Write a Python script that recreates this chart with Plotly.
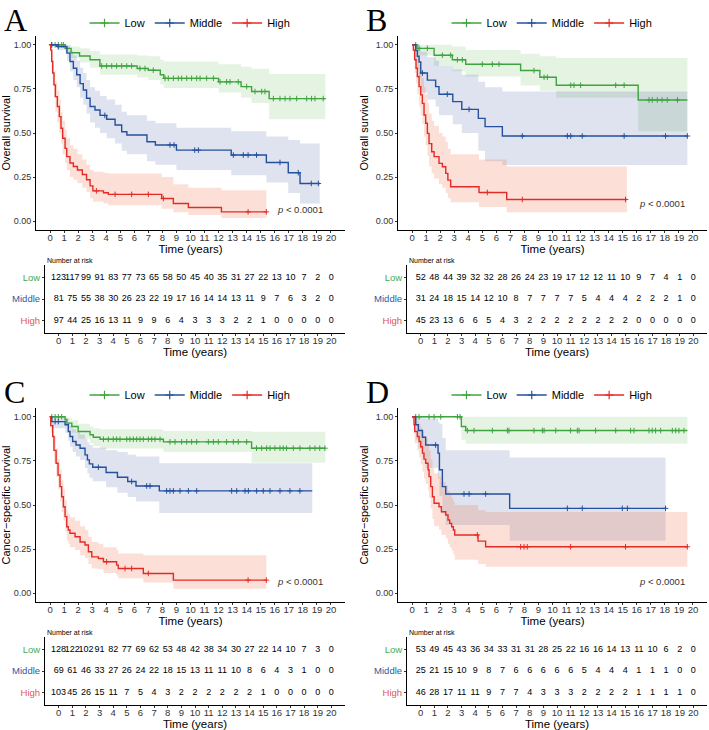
import numpy as np
import plotly.graph_objects as go

W, H = 709, 730
TIME_TICKS = list(range(0, 21))
GROUPS = ["Low", "Middle", "High"]
COLORS = {"Low": "#3FA33F", "Middle": "#24509C", "High": "#E22B27"}
FILLS = {"Low": "rgba(80,175,70,0.15)", "Middle": "rgba(40,70,150,0.15)", "High": "rgba(240,110,70,0.21)"}
LABEL_COLORS = {"Low": "#4DAA4D", "Middle": "#2E5A9E", "High": "#E8564C"}

# ---------------- Panel A : overall survival ----------------
A_LOW_T = [0, 1.07, 1.5, 2.1, 2.85, 3.55, 6.2, 7.0, 7.85, 8.1, 12.0, 13.6, 14.35, 15.6]
A_LOW_S = [1.0, 0.98, 0.955, 0.937, 0.915, 0.88, 0.866, 0.856, 0.83, 0.81, 0.79, 0.763, 0.735, 0.695]
A_LOW_LO = [1.0, 0.955, 0.925, 0.9, 0.87, 0.83, 0.815, 0.8, 0.775, 0.755, 0.73, 0.70, 0.67, 0.578]
A_LOW_HI = [1.0, 1.0, 0.99, 0.98, 0.965, 0.945, 0.94, 0.935, 0.915, 0.905, 0.89, 0.875, 0.865, 0.835]
A_LOW_END = 19.6
A_LOW_CENS = [0.12, 0.36, 0.59, 0.83, 0.95, 3.68, 4.03, 4.39, 4.74, 5.1, 5.46, 5.81, 6.4, 6.76, 7.35,
              8.19, 8.42, 8.78, 9.13, 9.37, 9.73, 10.08, 10.44, 10.68, 11.15, 11.63, 12.1, 12.57, 12.81,
              13.4, 14.0, 14.59, 15.07, 15.3, 15.9, 16.37, 16.73, 17.08, 17.56, 18.27, 18.62, 18.86, 19.45]

A_MID_T = [0, 0.5, 1.2, 1.42, 1.66, 1.9, 2.14, 2.37, 2.6, 2.85, 3.2, 3.56, 4.03, 4.63, 5.1, 5.47, 6.9, 7.5,
           9.0, 12.9, 15.4, 16.96, 17.8]
A_MID_S = [1.0, 0.99, 0.953, 0.905, 0.867, 0.83, 0.78, 0.744, 0.697, 0.65, 0.63, 0.60, 0.578, 0.545, 0.507,
           0.489, 0.45, 0.432, 0.403, 0.375, 0.333, 0.275, 0.214]
A_MID_LO = [1.0, 0.97, 0.91, 0.85, 0.80, 0.76, 0.70, 0.66, 0.61, 0.56, 0.53, 0.50, 0.47, 0.44, 0.40, 0.38,
            0.34, 0.32, 0.29, 0.26, 0.22, 0.16, 0.10]
A_MID_HI = [1.0, 1.0, 0.995, 0.965, 0.94, 0.91, 0.87, 0.84, 0.80, 0.76, 0.74, 0.71, 0.69, 0.66, 0.62, 0.60,
            0.57, 0.555, 0.53, 0.51, 0.48, 0.46, 0.44]
A_MID_END = 19.2
A_MID_CENS = [0.12, 0.59, 3.9, 8.54, 8.83, 10.3, 10.56, 13.05, 13.76, 14.1, 14.7, 16.37, 17.67, 18.6, 19.1]

A_HIGH_T = [0, 0.05, 0.12, 0.19, 0.28, 0.38, 0.52, 0.66, 0.78, 0.9, 1.07, 1.19, 1.42, 1.66, 1.95, 2.3, 2.6,
            2.85, 3.05, 3.8, 4.15, 7.95, 8.78, 9.85, 12.2]
A_HIGH_S = [1.0, 0.97, 0.905, 0.84, 0.773, 0.706, 0.65, 0.593, 0.527, 0.47, 0.413, 0.366, 0.33, 0.31, 0.29,
            0.265, 0.235, 0.20, 0.172, 0.161, 0.152, 0.129, 0.10, 0.078, 0.053]
A_HIGH_LO = [1.0, 0.94, 0.85, 0.77, 0.70, 0.62, 0.56, 0.50, 0.44, 0.38, 0.33, 0.29, 0.25, 0.235, 0.215, 0.19,
             0.165, 0.13, 0.11, 0.10, 0.09, 0.07, 0.05, 0.035, 0.018]
A_HIGH_HI = [1.0, 1.0, 0.96, 0.91, 0.85, 0.79, 0.74, 0.69, 0.62, 0.57, 0.52, 0.47, 0.43, 0.41, 0.38, 0.35,
             0.32, 0.29, 0.28, 0.275, 0.27, 0.25, 0.21, 0.19, 0.175]
A_HIGH_END = 15.4
A_HIGH_CENS = [3.3, 4.63, 5.81, 7.0, 8.07, 14.1, 15.4]

A_RISK_LOW = [123, 117, 99, 91, 83, 77, 73, 65, 58, 50, 45, 40, 35, 31, 27, 22, 13, 10, 7, 2, 0]
A_RISK_MID = [81, 75, 55, 38, 30, 26, 23, 22, 19, 17, 16, 14, 14, 13, 11, 9, 7, 6, 3, 2, 0]
A_RISK_HIGH = [97, 44, 25, 16, 13, 11, 9, 9, 6, 4, 3, 3, 3, 2, 2, 1, 0, 0, 0, 0, 0]

# ---------------- Panel B : overall survival ----------------
B_LOW_T = [0, 0.35, 1.57, 2.87, 3.82, 7.73, 9.1, 10.27, 16.1]
B_LOW_S = [1.0, 0.98, 0.941, 0.915, 0.89, 0.854, 0.816, 0.771, 0.6875]
B_LOW_LO = [1.0, 0.94, 0.88, 0.85, 0.82, 0.77, 0.74, 0.70, 0.51]
B_LOW_HI = [1.0, 1.0, 1.0, 0.99, 0.97, 0.95, 0.935, 0.925, 0.925]
B_LOW_END = 19.6
B_LOW_CENS = [0.26, 0.5, 1.09, 2.16, 2.75, 3.23, 3.58, 5.0, 5.72, 6.19, 8.68, 9.4, 9.63, 11.3, 11.53, 12.0,
              14.5, 15.1, 16.87, 17.1, 17.46, 17.8, 18.17, 18.9]

B_MID_T = [0, 0.26, 0.38, 0.5, 0.62, 1.09, 1.68, 1.92, 2.9, 3.54, 4.72, 5.2, 6.43]
B_MID_S = [1.0, 0.968, 0.935, 0.903, 0.84, 0.80, 0.763, 0.72, 0.678, 0.634, 0.583, 0.536, 0.483]
B_MID_LO = [1.0, 0.91, 0.86, 0.81, 0.73, 0.69, 0.65, 0.60, 0.55, 0.50, 0.40, 0.34, 0.318]
B_MID_HI = [1.0, 1.0, 1.0, 0.99, 0.96, 0.93, 0.91, 0.88, 0.86, 0.83, 0.79, 0.76, 0.735]
B_MID_END = 19.6
B_MID_CENS = [0.74, 2.51, 4.06, 7.85, 11.06, 11.3, 12.12, 15.1, 18.05, 19.6]

B_HIGH_T = [0, 0.095, 0.19, 0.285, 0.38, 0.5, 0.62, 0.735, 0.854, 0.97, 1.09, 1.21, 1.4, 1.57, 1.92, 2.16,
            2.4, 2.55, 2.75, 4.77, 6.74]
B_HIGH_S = [1.0, 0.97, 0.915, 0.867, 0.82, 0.763, 0.716, 0.668, 0.602, 0.555, 0.498, 0.44, 0.394, 0.366,
            0.328, 0.309, 0.271, 0.233, 0.195, 0.163, 0.123]
B_HIGH_LO = [1.0, 0.92, 0.84, 0.78, 0.72, 0.65, 0.60, 0.55, 0.48, 0.43, 0.37, 0.31, 0.27, 0.24, 0.21, 0.19,
             0.16, 0.13, 0.108, 0.08, 0.05]
B_HIGH_HI = [1.0, 1.0, 0.99, 0.96, 0.93, 0.89, 0.85, 0.81, 0.76, 0.72, 0.67, 0.61, 0.57, 0.54, 0.50, 0.48,
             0.45, 0.41, 0.38, 0.35, 0.31]
B_HIGH_END = 15.3
B_HIGH_CENS = [5.36, 7.85, 15.2]

B_RISK_LOW = [52, 48, 44, 39, 32, 32, 28, 26, 24, 23, 19, 17, 12, 12, 11, 10, 9, 7, 4, 1, 0]
B_RISK_MID = [31, 24, 18, 15, 14, 12, 10, 8, 7, 7, 7, 7, 5, 4, 4, 4, 2, 2, 2, 1, 0]
B_RISK_HIGH = [45, 23, 13, 6, 6, 5, 4, 3, 2, 2, 2, 2, 2, 2, 2, 2, 0, 0, 0, 0, 0]

# ---------------- Panel C : cancer-specific survival ----------------
C_LOW_T = [0, 1.07, 1.2, 1.55, 2.0, 2.85, 3.08, 3.56, 8.07, 14.35]
C_LOW_S = [1.0, 0.983, 0.964, 0.945, 0.917, 0.898, 0.884, 0.873, 0.858, 0.822]
C_LOW_LO = [1.0, 0.96, 0.935, 0.91, 0.875, 0.85, 0.835, 0.82, 0.80, 0.74]
C_LOW_HI = [1.0, 1.0, 0.995, 0.98, 0.96, 0.945, 0.935, 0.93, 0.92, 0.915]
C_LOW_END = 19.6
C_LOW_CENS = [0.12, 0.36, 0.59, 0.83, 3.8, 4.15, 4.5, 4.74, 4.98, 5.46, 5.69, 5.93, 6.17, 6.4, 6.64, 7.0,
              7.24, 7.47, 7.83, 8.54, 8.9, 9.37, 9.73, 10.08, 10.44, 11.27, 11.63, 11.98, 12.57, 13.05,
              13.4, 14.0, 14.7, 15.07, 15.42, 15.66, 16.01, 16.37, 16.6, 16.84, 17.32, 17.79, 18.5,
              18.86, 19.2, 19.57]

C_MID_T = [0, 0.12, 1.07, 1.3, 1.42, 1.61, 1.85, 2.14, 2.49, 2.66, 2.8, 3.04, 3.99, 4.8, 5.53, 6.12, 7.78]
C_MID_S = [1.0, 0.973, 0.955, 0.917, 0.888, 0.86, 0.84, 0.822, 0.784, 0.756, 0.733, 0.714, 0.684, 0.657,
           0.633, 0.608, 0.58]
C_MID_LO = [1.0, 0.935, 0.91, 0.865, 0.83, 0.80, 0.775, 0.755, 0.71, 0.68, 0.655, 0.635, 0.60, 0.57, 0.545,
            0.52, 0.455]
C_MID_HI = [1.0, 1.0, 0.995, 0.97, 0.95, 0.93, 0.915, 0.90, 0.875, 0.855, 0.84, 0.825, 0.81, 0.80, 0.785,
            0.775, 0.737]
C_MID_END = 18.67
C_MID_CENS = [0.36, 0.59, 3.44, 5.81, 6.88, 7.12, 8.3, 8.54, 8.78, 9.25, 9.85, 10.44, 12.93, 13.29, 13.88,
              14.12, 14.71, 15.18, 15.66, 16.37, 17.08, 17.79]

C_HIGH_T = [0, 0.05, 0.19, 0.28, 0.43, 0.57, 0.71, 0.83, 0.95, 1.07, 1.19, 1.3, 1.42, 1.78, 2.14, 2.49, 2.73,
            2.97, 3.44, 3.8, 4.74, 4.86, 6.64, 8.78]
C_HIGH_S = [1.0, 0.95, 0.888, 0.81, 0.737, 0.67, 0.604, 0.547, 0.49, 0.434, 0.377, 0.358, 0.34, 0.32, 0.29,
            0.273, 0.235, 0.206, 0.197, 0.178, 0.159, 0.14, 0.112, 0.074]
C_HIGH_LO = [1.0, 0.91, 0.83, 0.74, 0.66, 0.59, 0.52, 0.46, 0.41, 0.35, 0.30, 0.28, 0.26, 0.245, 0.215, 0.2,
             0.165, 0.14, 0.135, 0.115, 0.10, 0.085, 0.06, 0.025]
C_HIGH_HI = [1.0, 0.995, 0.96, 0.89, 0.82, 0.76, 0.70, 0.64, 0.59, 0.53, 0.47, 0.45, 0.43, 0.41, 0.38, 0.36,
             0.32, 0.29, 0.28, 0.26, 0.245, 0.225, 0.215, 0.215]
C_HIGH_END = 15.4
C_HIGH_CENS = [4.03, 5.34, 5.81, 7.0, 14.1, 15.4]

C_RISK_LOW = [128, 122, 102, 91, 82, 77, 69, 62, 53, 48, 42, 38, 34, 30, 27, 22, 14, 10, 7, 3, 0]
C_RISK_MID = [69, 61, 46, 33, 27, 26, 24, 22, 18, 15, 13, 11, 11, 10, 8, 6, 4, 3, 1, 0, 0]
C_RISK_HIGH = [103, 45, 26, 15, 11, 7, 5, 4, 3, 2, 2, 2, 2, 2, 2, 1, 0, 0, 0, 0, 0]

# ---------------- Panel D : cancer-specific survival ----------------
D_LOW_T = [0, 3.51, 3.82]
D_LOW_S = [1.0, 0.945, 0.922]
D_LOW_LO = [1.0, 0.87, 0.847]
D_LOW_HI = [1.0, 1.0, 1.0]
D_LOW_END = 19.6
D_LOW_CENS = [0.26, 0.5, 1.21, 1.57, 2.04, 3.23, 3.42, 3.94, 4.41, 5.72, 6.79, 6.9, 8.68, 9.28, 9.4, 10.23,
              11.29, 11.77, 11.89, 13.07, 14.5, 15.56, 15.8, 16.87, 17.1, 17.34, 17.7, 18.53, 18.77, 19.0,
              19.36]

D_MID_T = [0, 0.26, 0.45, 0.74, 0.97, 1.85, 1.95, 2.16, 2.4, 6.95]
D_MID_S = [1.0, 0.955, 0.922, 0.884, 0.84, 0.794, 0.70, 0.604, 0.5625, 0.481]
D_MID_LO = [1.0, 0.87, 0.82, 0.77, 0.71, 0.65, 0.55, 0.45, 0.386, 0.297]
D_MID_HI = [1.0, 1.0, 1.0, 1.0, 0.99, 0.97, 0.96, 0.88, 0.81, 0.77]
D_MID_END = 18.05
D_MID_CENS = [1.68, 3.7, 4.06, 5.24, 11.06, 12.12, 14.97, 15.33, 18.05]

D_HIGH_T = [0, 0.14, 0.19, 0.38, 0.5, 0.62, 0.74, 0.85, 0.97, 1.14, 1.21, 1.33, 1.45, 1.57, 1.92, 2.09, 2.4,
            2.56, 2.68, 2.82, 2.94, 3.04, 4.7, 5.24]
D_HIGH_S = [1.0, 0.955, 0.917, 0.888, 0.86, 0.83, 0.794, 0.76, 0.737, 0.70, 0.661, 0.604, 0.547, 0.51, 0.49,
            0.462, 0.443, 0.415, 0.396, 0.377, 0.358, 0.33, 0.295, 0.263]
D_HIGH_LO = [1.0, 0.90, 0.85, 0.81, 0.77, 0.73, 0.69, 0.65, 0.62, 0.58, 0.54, 0.48, 0.42, 0.38, 0.36, 0.33,
             0.31, 0.28, 0.26, 0.24, 0.22, 0.19, 0.165, 0.15]
D_HIGH_HI = [1.0, 1.0, 0.99, 0.975, 0.96, 0.94, 0.915, 0.89, 0.875, 0.845, 0.81, 0.76, 0.71, 0.68, 0.66, 0.63,
             0.61, 0.58, 0.56, 0.54, 0.52, 0.50, 0.47, 0.46]
D_HIGH_END = 19.6
D_HIGH_CENS = [4.65, 7.73, 7.97, 8.2, 11.29, 15.2, 19.6]

D_RISK_LOW = [53, 49, 45, 43, 36, 34, 33, 31, 31, 28, 25, 22, 16, 16, 14, 13, 11, 10, 6, 2, 0]
D_RISK_MID = [25, 21, 15, 10, 9, 8, 7, 6, 6, 6, 6, 6, 5, 4, 4, 4, 1, 1, 1, 0, 0]
D_RISK_HIGH = [46, 28, 17, 11, 11, 9, 7, 7, 4, 3, 3, 3, 2, 2, 2, 2, 1, 1, 1, 1, 0]

PVAL_TEXT = "<i>p</i> < 0.0001"
PVAL_POS = {"A": (16.0, 0.068), "B": (16.0, 0.10), "C": (16.0, 0.068), "D": (16.0, 0.068)}
YTITLES = {"A": "Overall survival", "B": "Overall survival",
           "C": "Cancer\u2212specific survival", "D": "Cancer\u2212specific survival"}

PANELS = {
    "A": {"Low": (A_LOW_T, A_LOW_S, A_LOW_LO, A_LOW_HI, A_LOW_END, A_LOW_CENS),
          "Middle": (A_MID_T, A_MID_S, A_MID_LO, A_MID_HI, A_MID_END, A_MID_CENS),
          "High": (A_HIGH_T, A_HIGH_S, A_HIGH_LO, A_HIGH_HI, A_HIGH_END, A_HIGH_CENS),
          "risk": (A_RISK_LOW, A_RISK_MID, A_RISK_HIGH)},
    "B": {"Low": (B_LOW_T, B_LOW_S, B_LOW_LO, B_LOW_HI, B_LOW_END, B_LOW_CENS),
          "Middle": (B_MID_T, B_MID_S, B_MID_LO, B_MID_HI, B_MID_END, B_MID_CENS),
          "High": (B_HIGH_T, B_HIGH_S, B_HIGH_LO, B_HIGH_HI, B_HIGH_END, B_HIGH_CENS),
          "risk": (B_RISK_LOW, B_RISK_MID, B_RISK_HIGH)},
    "C": {"Low": (C_LOW_T, C_LOW_S, C_LOW_LO, C_LOW_HI, C_LOW_END, C_LOW_CENS),
          "Middle": (C_MID_T, C_MID_S, C_MID_LO, C_MID_HI, C_MID_END, C_MID_CENS),
          "High": (C_HIGH_T, C_HIGH_S, C_HIGH_LO, C_HIGH_HI, C_HIGH_END, C_HIGH_CENS),
          "risk": (C_RISK_LOW, C_RISK_MID, C_RISK_HIGH)},
    "D": {"Low": (D_LOW_T, D_LOW_S, D_LOW_LO, D_LOW_HI, D_LOW_END, D_LOW_CENS),
          "Middle": (D_MID_T, D_MID_S, D_MID_LO, D_MID_HI, D_MID_END, D_MID_CENS),
          "High": (D_HIGH_T, D_HIGH_S, D_HIGH_LO, D_HIGH_HI, D_HIGH_END, D_HIGH_CENS),
          "risk": (D_RISK_LOW, D_RISK_MID, D_RISK_HIGH)},
}

# ---------------- layout geometry (pixels) ----------------
COL_X = {"A": 0, "B": 362, "C": 0, "D": 362}
ROW_Y = {"A": 0, "B": 0, "C": 372, "D": 372}


def fx(p):
    return p / W


def fy(p):
    return 1 - p / H


FONT = "Arial, Liberation Sans, sans-serif"
fig = go.Figure()
layout = {}
annotations = []

for i, key in enumerate(["A", "B", "C", "D"]):
    n_main = 2 * i + 1
    n_tab = 2 * i + 2
    sm = "" if n_main == 1 else str(n_main)
    st = str(n_tab)
    ox, oy = COL_X[key], ROW_Y[key]
    legend_name = "legend" if i == 0 else f"legend{i + 1}"
    data = PANELS[key]

    # confidence bands first
    for g in GROUPS:
        t, s, lo, hi, end, cens = data[g]
        assert len(t) == len(s) == len(lo) == len(hi), (key, g)
        xs = list(t) + [end]
        fig.add_trace(go.Scatter(x=xs, y=list(hi) + [hi[-1]], mode="lines", line=dict(width=0, shape="hv"),
                                 xaxis="x" + sm, yaxis="y" + sm, showlegend=False, hoverinfo="skip"))
        fig.add_trace(go.Scatter(x=xs, y=list(lo) + [lo[-1]], mode="lines", line=dict(width=0, shape="hv"),
                                 fill="tonexty", fillcolor=FILLS[g],
                                 xaxis="x" + sm, yaxis="y" + sm, showlegend=False, hoverinfo="skip"))
    # survival curves and censor marks
    for g in GROUPS:
        t, s, lo, hi, end, cens = data[g]
        xs = list(t) + [end]
        fig.add_trace(go.Scatter(x=xs, y=list(s) + [s[-1]], mode="lines",
                                 line=dict(color=COLORS[g], width=1.4, shape="hv"),
                                 xaxis="x" + sm, yaxis="y" + sm, showlegend=False, name=g))
        idx = np.searchsorted(np.array(t), np.array(cens), side="right") - 1
        cy = [s[k] for k in idx]
        fig.add_trace(go.Scatter(x=cens, y=cy, mode="markers",
                                 marker=dict(symbol="cross-thin", size=4, line=dict(width=1, color=COLORS[g]),
                                             color=COLORS[g]),
                                 xaxis="x" + sm, yaxis="y" + sm, showlegend=False, hoverinfo="skip"))
    # legend entries
    for g in GROUPS:
        fig.add_trace(go.Scatter(x=[None], y=[None], mode="lines+markers", name=g,
                                 line=dict(color=COLORS[g], width=1.4),
                                 marker=dict(symbol="cross-thin", size=6, line=dict(width=1.2, color=COLORS[g]),
                                             color=COLORS[g]),
                                 xaxis="x" + sm, yaxis="y" + sm, legend=legend_name, showlegend=True))
    # risk table
    for r, g in enumerate(GROUPS):
        vals = data["risk"][r]
        fig.add_trace(go.Scatter(x=TIME_TICKS, y=[3 - r] * len(TIME_TICKS), mode="text",
                                 text=[str(v) for v in vals], textfont=dict(size=9, color="black", family=FONT),
                                 xaxis="x" + st, yaxis="y" + st, showlegend=False, hoverinfo="skip"))

    axis_common = dict(showline=True, linecolor="black", linewidth=1, ticks="outside", ticklen=2,
                       tickcolor="#333", showgrid=False, zeroline=False, automargin=False,
                       tickfont=dict(size=9, color="#333", family=FONT))
    xtickfont = dict(size=9.5, color="#333", family=FONT)
    # main plot axes
    layout["xaxis" + sm] = dict(axis_common, domain=[fx(ox + 36), fx(ox + 345)], range=[-1, 21],
                                tickvals=TIME_TICKS, anchor="y" + sm, ticklabelstandoff=-3, tickfont=xtickfont,
                                title=dict(text="Time (years)", font=dict(size=11.5, color="black", family=FONT),
                                           standoff=0))
    layout["yaxis" + sm] = dict(axis_common, domain=[fy(oy + 230), fy(oy + 36)], range=[-0.05, 1.05],
                                tickvals=[0, 0.25, 0.5, 0.75, 1.0],
                                ticktext=["0.00", "0.25", "0.50", "0.75", "1.00"], anchor="x" + sm,
                                title=dict(text=YTITLES[key], font=dict(size=11, color="black", family=FONT),
                                           standoff=4))
    # table axes
    layout["xaxis" + st] = dict(axis_common, domain=[fx(ox + 45), fx(ox + 345)], range=[-1, 21],
                                tickvals=TIME_TICKS, anchor="y" + st, ticklabelstandoff=-3, tickfont=xtickfont,
                                title=dict(text="Time (years)", font=dict(size=11.5, color="black", family=FONT),
                                           standoff=0))
    layout["yaxis" + st] = dict(axis_common, domain=[fy(oy + 333), fy(oy + 265)], range=[0.4, 3.6],
                                tickvals=[3, 2, 1],
                                ticktext=[f'<span style="color:{LABEL_COLORS[g]}">{g}</span>' for g in GROUPS],
                                anchor="x" + st)
    layout["yaxis" + st]["tickfont"] = dict(size=9.5, family=FONT)

    layout[legend_name] = dict(orientation="h", x=fx(ox + 190), xanchor="center", y=fy(oy + 23),
                               yanchor="middle", font=dict(size=11, color="black", family=FONT),
                               bgcolor="rgba(0,0,0,0)", itemwidth=30, traceorder="normal")

    # annotations: panel letter, number at risk, p value
    annotations.append(dict(text=key, x=fx(ox + 2), y=fy(oy), xref="paper", yref="paper",
                            xanchor="left", yanchor="top", showarrow=False,
                            font=dict(size=32, color="black", family="Liberation Serif, Times New Roman, serif")))
    annotations.append(dict(text="Number at risk", x=fx(ox + 45), y=fy(oy + 260), xref="paper", yref="paper",
                            xanchor="left", yanchor="middle", showarrow=False,
                            font=dict(size=7, color="black", family=FONT)))
    px_, py_ = PVAL_POS[key]
    annotations.append(dict(text=PVAL_TEXT, x=px_, y=py_, xref="x" + sm, yref="y" + sm,
                            xanchor="left", yanchor="middle", showarrow=False,
                            font=dict(size=9.5, color="#333", family=FONT)))

fig.update_layout(**layout)
fig.update_layout(width=W, height=H, margin=dict(l=0, r=0, t=0, b=0), paper_bgcolor="white",
                  plot_bgcolor="white", annotations=annotations, showlegend=True,
                  font=dict(family=FONT))
fig.write_html("out.html")
